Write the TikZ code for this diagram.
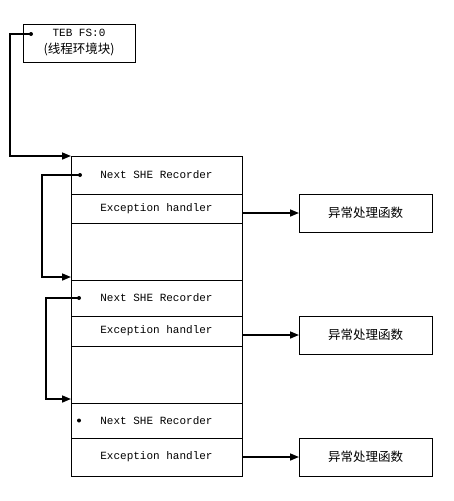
\documentclass[tikz,border=0pt]{standalone}
\usepackage{fontspec}
\setmonofont{Liberation Mono}
\newfontfamily\cjk{Noto Sans CJK SC}
\usetikzlibrary{arrows.meta}

\begin{document}
\begin{tikzpicture}[
        x=1pt, y=-1pt,
        cell/.style={draw, line width=0.8pt, anchor=north west, minimum width=171pt, inner sep=0pt, outer sep=0pt, font=\ttfamily\fontsize{11}{13}\selectfont},
        handler/.style={draw, line width=0.8pt, minimum width=133pt, minimum height=38pt, inner sep=0pt, outer sep=0pt, font=\cjk\fontsize{12.5}{14}\selectfont},
        link/.style={line width=1.6pt, -{Triangle[length=9pt,width=7pt]}},
        dot/.style={circle, fill, inner sep=0pt, minimum size=4pt}
    ]
    \useasboundingbox (0,0) rectangle (454,501);
    % TEB
    \node[draw, line width=0.8pt, minimum width=112pt, minimum height=38pt, inner sep=0pt, align=center,
          font=\ttfamily\fontsize{11}{17}\selectfont] (teb) at (79,43)
        {TEB FS:0\\{\cjk\fontsize{12.5}{17}\selectfont (线程环境块)}};
    \node[dot] (t0) at (31,34) {};
    % records
    \node[cell, minimum height=38pt] (next1) at (71,156) {Next SHE Recorder};
    \node[cell, minimum height=29pt] (exc1) at (next1.south west) {Exception handler};
    \node[cell, minimum height=57pt] (gap1) at (exc1.south west) {};
    \node[cell, minimum height=36pt] (next2) at (gap1.south west) {Next SHE Recorder};
    \node[cell, minimum height=30pt] (exc2) at (next2.south west) {Exception handler};
    \node[cell, minimum height=57pt] (gap2) at (exc2.south west) {};
    \node[cell, minimum height=35pt] (next3) at (gap2.south west) {Next SHE Recorder};
    \node[cell, minimum height=38pt] (exc3) at (next3.south west) {Exception handler};
    \node[dot] (d1) at ([xshift=9pt]next1.west) {};
    \node[dot] (d2) at ([xshift=8pt]next2.west) {};
    \node[dot] (d3) at ([xshift=8pt]next3.west) {};
    % handlers
    \node[handler] (h1) at (365.5,213) {异常处理函数};
    \node[handler] (h2) at (365.5,335) {异常处理函数};
    \node[handler] (h3) at (365.5,457) {异常处理函数};
    \draw[link] (h1.west -| exc1.east) -- (h1.west);
    \draw[link] (h2.west -| exc2.east) -- (h2.west);
    \draw[link] (h3.west -| exc3.east) -- (h3.west);
    % chain
    \draw[link] (t0.center) -| ([xshift=-61pt]next1.north west) -- (next1.north west);
    \draw[link] (d1.center) -| ([xshift=-29pt,yshift=3pt]next2.north west) -- ([yshift=3pt]next2.north west);
    \draw[link] (d2.center) -| ([xshift=-25pt,yshift=4pt]next3.north west) -- ([yshift=4pt]next3.north west);
\end{tikzpicture}
\end{document}
